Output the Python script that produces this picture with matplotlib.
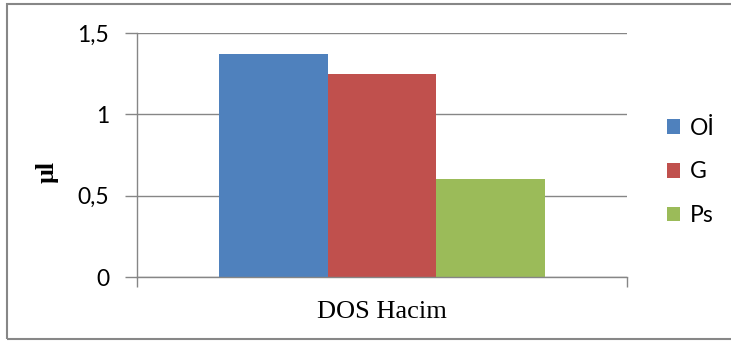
import matplotlib
matplotlib.use("Agg")
import matplotlib.pyplot as plt
from matplotlib.patches import Patch, Rectangle
from matplotlib.ticker import FuncFormatter

# DOS volume per group
groups = ["Oİ", "G", "Ps"]
values = [1.37, 1.25, 0.60]
colors = ["#4F81BD", "#C0504D", "#9BBB59"]
category = "DOS Hacim"
yticks = [0, 0.5, 1, 1.5]

grid_gray = "#868686"

fig = plt.figure(figsize=(7.31, 3.41), dpi=100)
ax = fig.add_axes([137 / 731, 64 / 341, 490 / 731, 244 / 341])

xs = [i - (len(groups) - 1) / 2 for i in range(len(groups))]
for x, v, c in zip(xs, values, colors):
    ax.bar(x, v, width=1.0, color=c, zorder=3)

ax.set_xlim(-2.25, 2.25)
ax.set_ylim(0, 1.5)

ax.set_yticks(yticks)
ax.yaxis.set_major_formatter(FuncFormatter(lambda v, p: f"{v:g}".replace(".", ",")))
ax.grid(axis="y", color=grid_gray, linewidth=1.0, zorder=0)

ax.set_xticks([0], [category])
ax.set_xticks([-2.25, 2.25], minor=True)
ax.tick_params(axis="x", which="major", length=0, pad=17,
               labelsize=19, labelfontfamily="Liberation Serif")
ax.tick_params(axis="x", which="minor", length=7, width=1.0, color=grid_gray)
ax.tick_params(axis="y", length=9, width=1.0, color=grid_gray, pad=11,
               labelsize=16.5, labelfontfamily="Lato")

for s in ["top", "right"]:
    ax.spines[s].set_visible(False)
for s in ["left", "bottom"]:
    ax.spines[s].set_color(grid_gray)
    ax.spines[s].set_linewidth(1.0)
    ax.spines[s].set_zorder(4)

fig.text(47 / 731, 1 - 172 / 341, "µl", rotation=90, ha="center", va="center",
         fontsize=18.5, fontweight="bold", family="Liberation Serif")

handles = [Patch(facecolor=c, edgecolor="none") for c in colors]
fig.legend(handles, groups, loc="center left", bbox_to_anchor=(667 / 731, 1 - 172 / 341),
           frameon=False, borderpad=0, borderaxespad=0, handlelength=0.58,
           handleheight=0.58, handletextpad=0.4, labelspacing=1.0,
           prop={"family": "Lato", "size": 16.5})

# outer chart-area border (runs off the right edge)
fig.patches.append(Rectangle((7 / 731, 2 / 341), 730 / 731, 335 / 341,
                             transform=fig.transFigure, fill=False,
                             edgecolor="#878787", linewidth=1.5))

fig.savefig("out.png", dpi=100)
